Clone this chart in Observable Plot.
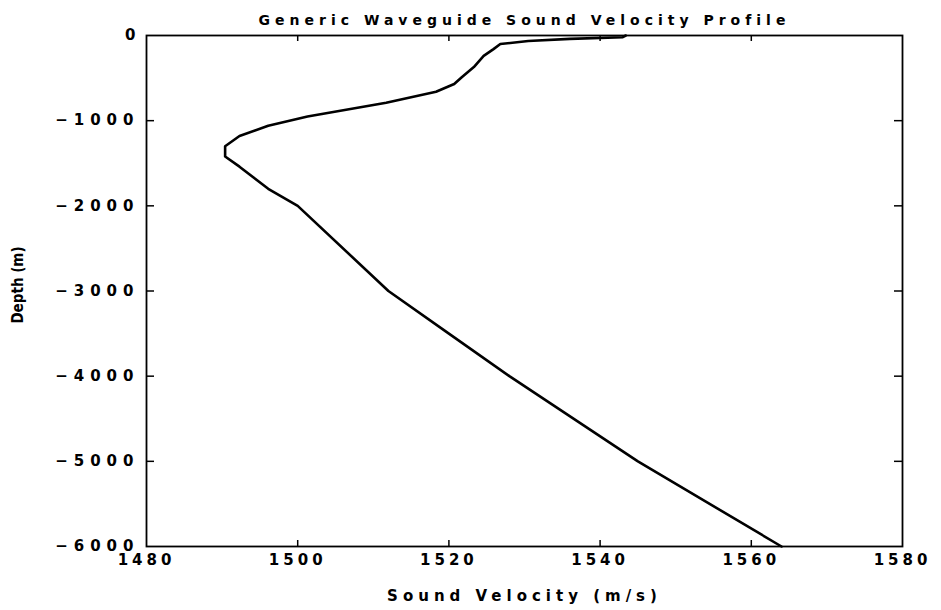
<!DOCTYPE html>
<html><head><meta charset="utf-8">
<script src="https://cdn.jsdelivr.net/npm/d3@7"></script>
<script src="https://cdn.jsdelivr.net/npm/@observablehq/plot@0.6"></script>
<style>
body{margin:0;background:#fff}
svg text{letter-spacing:4px}
</style>
</head><body><div id="chart"></div>
<script>
const depth = [0, -20, -40, -65, -100, -160, -240, -370, -490, -570, -660, -790, -950, -1060, -1180, -1300, -1420, -1540, -1800, -2000, -3000, -3500, -4000, -5000, -6000];
const velocity = [1543.4, 1543, 1536, 1530.5, 1526.8, 1525.9, 1524.6, 1523.3, 1521.7, 1520.7, 1518.3, 1511.7, 1501.3, 1496.1, 1492.3, 1490.4, 1490.4, 1492.3, 1496.1, 1500, 1512, 1520, 1528, 1545, 1564];
const xTicks = [1480, 1500, 1520, 1540, 1560, 1580];
const yTicks = [0, -1000, -2000, -3000, -4000, -5000, -6000];
const titleText = "Generic Waveguide Sound Velocity Profile";
const xLabel = "Sound Velocity (m/s)";
const yLabel = "Depth (m)";

const profile = depth.map((d, i) => ({depth: d, velocity: velocity[i]}));

const W = 941, H = 610, mL = 146, mR = 39, mT = 35, mB = 64;
const fw = W - mL - mR, fh = H - mT - mB;

const chart = Plot.plot({
  width: W, height: H,
  marginLeft: mL, marginRight: mR, marginTop: mT, marginBottom: mB,
  style: {fontFamily: "DejaVu Sans, sans-serif", fontSize: "14px", fontWeight: "bold", background: "#fff", color: "#000", overflow: "visible"},
  x: {domain: [1480, 1580]},
  y: {domain: [-6000, 0]},
  marks: [
    Plot.frame({stroke: "#000", strokeWidth: 1.8}),
    Plot.tickX(xTicks.slice(1, -1), {x: d => d, insetTop: fh - 6, stroke: "#000", strokeWidth: 1.5}),
    Plot.tickX(xTicks.slice(1, -1), {x: d => d, insetBottom: fh - 6, stroke: "#000", strokeWidth: 1.5}),
    Plot.tickY(yTicks.slice(1, -1), {y: d => d, insetRight: fw - 8, stroke: "#000", strokeWidth: 1.5}),
    Plot.tickY(yTicks.slice(1, -1), {y: d => d, insetLeft: fw - 8, stroke: "#000", strokeWidth: 1.5}),
    Plot.axisX({ticks: xTicks, tickSize: 0, tickPadding: 8, label: null, tickFormat: d => String(d), fontSize: 15}),
    Plot.axisY({ticks: yTicks, tickSize: 0, tickPadding: 7, label: null, fontSize: 15,
      tickFormat: d => d === 0 ? "0" : "\u2212" + Math.abs(d)}),
    Plot.line(profile, {x: "velocity", y: "depth", stroke: "#000", strokeWidth: 2.6}),
    Plot.text([titleText], {frameAnchor: "top", dy: -20, text: d => d, fontSize: 14, fill: "#000"}),
    Plot.text([xLabel], {frameAnchor: "bottom", dy: 54, text: d => d, fontSize: 15, fill: "#000"}),
    Plot.text([yLabel], {frameAnchor: "left", textAnchor: "middle", dx: -128, dy: -6, rotate: -90, text: d => d, fontSize: 15, fill: "#000"})
  ]
});
d3.select(chart).selectAll("text")
  .filter(function() { return this.textContent === titleText || this.textContent === xLabel; })
  .style("letter-spacing", "5px");
d3.select(chart).selectAll("text")
  .filter(function() { return /^\u2212\d/.test(this.textContent); })
  .style("letter-spacing", "6px");
d3.select(chart).selectAll("text")
  .filter(function() { return this.textContent === yLabel; })
  .style("letter-spacing", "0px")
  .style("font-family", "'DejaVu Sans Condensed','Liberation Sans Narrow','Roboto Condensed',sans-serif")
  .style("font-stretch", "condensed");
document.getElementById("chart").append(chart);
</script>
</body></html>
